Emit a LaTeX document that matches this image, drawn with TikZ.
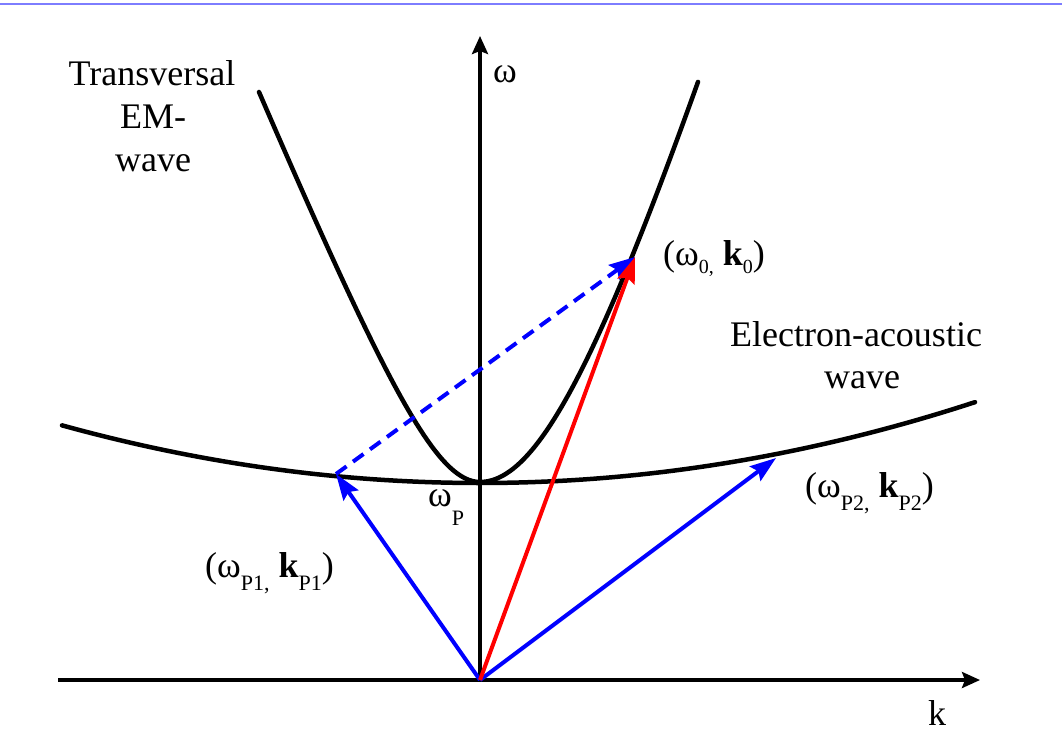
\documentclass[tikz,border=0pt]{standalone}
\usepackage{fontspec}
\setmainfont{Liberation Serif}
\newfontfamily\tms{Liberation Serif}
\usetikzlibrary{arrows.meta}
\newcommand\lsub[3]{\raisebox{-#1}{\fontsize{#2}{#2}\selectfont #3}}
\begin{document}
\begin{tikzpicture}[x=1pt,y=-1pt,
  lbl/.style={inner sep=0pt, font=\tms\fontsize{36}{43}\selectfont},
  curve/.style={line width=4.5pt, line cap=round, line join=round},
  axis/.style={line width=3.5pt, -{Stealth[length=18pt,width=16pt,inset=3pt]}},
  vec/.style={line width=4pt, -{Stealth[length=26pt,width=18pt,inset=4pt]}},
  blueline/.style={color={rgb,255:red,0;green,0;blue,255}},
  redline/.style={color={rgb,255:red,255;green,0;blue,0}},
]
\useasboundingbox (0,0) rectangle (1062,753);
% top rule
\draw[line width=2.5pt, color={rgb,255:red,125;green,125;blue,255}] (0,4) -- (1062,4);

% points
\coordinate (O) at (480,680);
\coordinate (kL) at (58,680);
\coordinate (kR) at (980,680);
\coordinate (wT) at (480,36);
\coordinate (P1) at (336,474);
\coordinate (P2) at (776,458);
\coordinate (W0) at (635,257);

% electron-acoustic branch
\draw[curve] plot[domain=62:975, samples=80] (\x, {483-3.3*((\x-480)/100)^2});
% transverse EM branch (left and right arms)
\draw[curve] plot[domain=259:480, samples=60] (\x, {482-100*(sqrt(3.08+5.917*((\x-480)/100)^2)-1.755)});
\draw[curve] plot[domain=480:698, samples=60] (\x, {482-100*(sqrt(19.01+10.71*((\x-480)/100)^2)-4.36)});

% axes
\draw[axis] (kL) -- (kR);
\draw[axis] (O) -- (wT);

% vectors
\draw[vec, blueline, dash pattern=on 13pt off 8pt] (P1) -- (W0);
\draw[vec, blueline] (O) -- (P1);
\draw[vec, blueline] (O) -- (P2);
\draw[vec, redline] (O) -- (W0);

% labels
\node[lbl, anchor=base] (t1) at (152,85) {Transversal};
\node[lbl, anchor=base] (t2) at (153,128) {EM-};
\node[lbl, anchor=base] (t3) at (153,171) {wave};
\node[lbl, anchor=base] (e1) at (856,346) {Electron-acoustic};
\node[lbl, anchor=base] (e2) at (862,388) {wave};
\node[lbl, anchor=base] (wl) at (505,82) {ω};
\node[lbl, anchor=base] (kl) at (937,725) {k};
\node[lbl, anchor=base west] (wp) at (428,506) {ω\lsub{19pt}{22}{P}};
\node[lbl, anchor=base west] (l0) at (663,265) {(ω\lsub{8pt}{20}{0,} \textbf{k}\lsub{8pt}{20}{0})};
\node[lbl, anchor=base west] (l2) at (805,497) {(ω\lsub{13pt}{22}{P2,} \textbf{k}\lsub{13pt}{22}{P2})};
\node[lbl, anchor=base west] (l1) at (205,577) {(ω\lsub{13pt}{22}{P1,} \textbf{k}\lsub{13pt}{22}{P1})};
\end{tikzpicture}
\end{document}
